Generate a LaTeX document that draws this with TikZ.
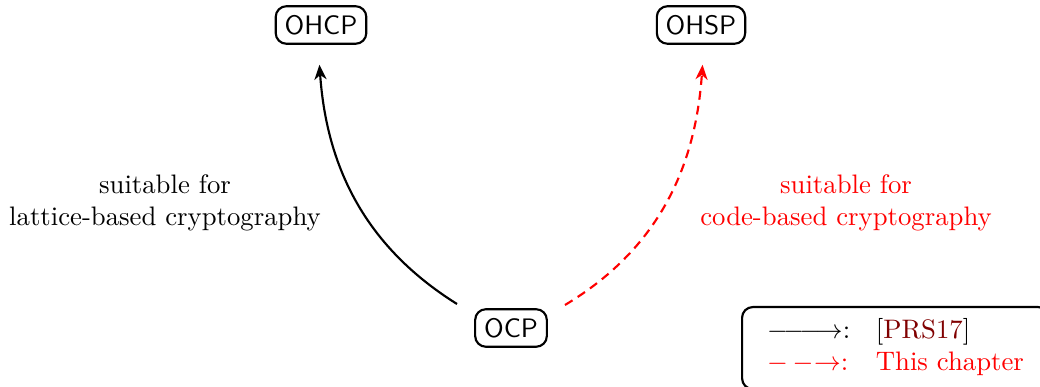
\documentclass[tikz,border=0pt]{standalone}
\usetikzlibrary{arrows.meta,calc}
\definecolor{citered}{rgb}{0.5,0,0}
\begin{document}
\begin{tikzpicture}[x=0.374pt,y=0.374pt,
  box/.style={draw,rounded corners=4pt,thick,font=\sffamily,inner sep=3.33pt},
  conn/.style={thick,shorten >=7.5pt,-{Stealth[length=5.5pt,width=4.5pt,inset=1.7pt]}},
  lbl/.style={align=center}]
\useasboundingbox (0,0) rectangle (1040,-387);
\clip (0,0) rectangle (1040,-387);
\node[box] (OHCP) at (321,-25) {OHCP};
\node[box] (OHSP) at (701,-25) {OHSP};
\node[box] (OCP) at (511,-328) {OCP};
\node[lbl] (L) at (165,-203) {suitable for\\lattice-based cryptography};
\node[lbl,text=red] (R) at (846,-203) {suitable for\\code-based cryptography};
\coordinate (s1) at ($(OCP.center)+(-54,24)$);
\coordinate (s2) at ($(OCP.center)+(54,23)$);
\draw[conn] (s1) to[out=148,in=-86] ([xshift=-1.1pt]OHCP.south);
\draw[conn,red,dash pattern=on 3.3pt off 2.3pt] (s2) to[out=31,in=-94] ([xshift=1.1pt]OHSP.south);
\node[draw,thick,rounded corners=4pt,anchor=north west,inner sep=3.33pt] (legend) at (741,-306)
 {\begin{tabular}{l@{\hspace{9.6pt}}l}
  $\relbar\joinrel\relbar\joinrel\relbar\joinrel\rightarrow$: & [\textcolor{citered}{PRS17}]\\
  \textcolor{red}{${-}\mkern3.3mu{-}\mkern0.4mu{\rightarrow}$:} & \textcolor{red}{This chapter}
 \end{tabular}};
\end{tikzpicture}
\end{document}
